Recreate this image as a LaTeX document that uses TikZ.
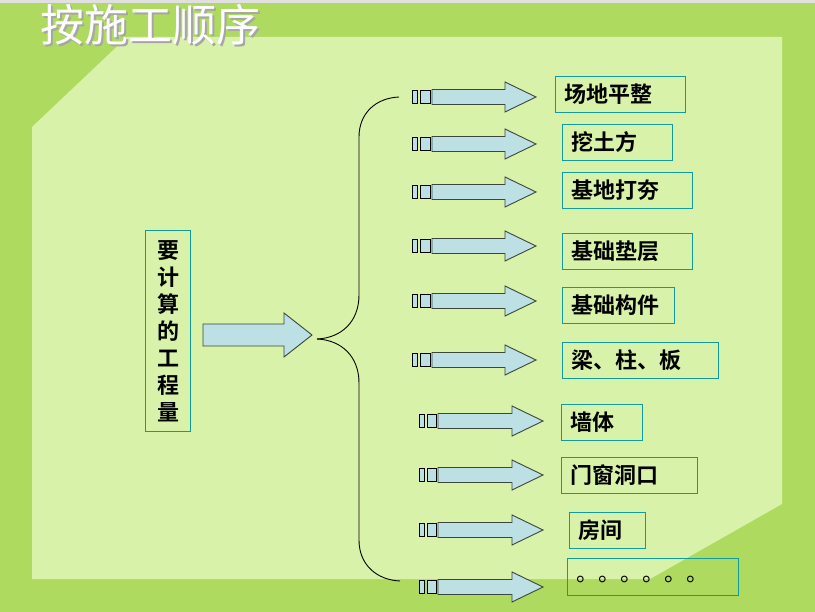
\documentclass[tikz,border=0pt]{standalone}
\usepackage{fontspec}
\newfontfamily\cjk{Noto Sans CJK SC}
\newfontfamily\cjkb{Noto Sans CJK SC Bold}
\usepackage{xcolor}
\usepackage{tikz}
\usetikzlibrary{calc,positioning}
\definecolor{bgdark}{HTML}{AEDB5F}
\definecolor{bglight}{HTML}{D9F2A9}
\definecolor{boxline}{HTML}{109C9C}
\definecolor{arrowfill}{HTML}{BCE0E4}
\definecolor{arrowline}{HTML}{3C463C}
\tikzset{
  item/.style={draw=boxline, line width=1pt, anchor=north west, inner xsep=9pt, inner ysep=0pt,
    minimum height=36pt, align=left, text=black, font=\cjkb\fontsize{22}{22}\selectfont},
  arrowbody/.style={fill=arrowfill, draw=arrowline, line width=0.9pt, line join=miter},
  glyph/.style={fill=arrowfill, draw=black, line width=0.9pt},
  brace/.style={draw=black, line width=0.9pt},
  ttl/.style={font=\cjk\fontsize{44}{44}\selectfont}
}
\newcommand\blockarrow[5]{% left, head, tip, centre y, shaft half
  \draw[arrowbody] (#1,#4-#5) -- (#2,#4-#5) -- (#2,#4-2*#5) -- (#3,#4) -- (#2,#4+2*#5)
    -- (#2,#4+#5) -- (#1,#4+#5) -- cycle;}

\begin{document}
\begin{tikzpicture}[x=1pt,y=-1pt]
  \useasboundingbox (0,0) rectangle (815,612);
  \fill[bgdark] (0,0) rectangle (815,612);
  \fill[black!12] (0,0) rectangle (815,3);
  \fill[bglight] (32,127) -- (127,37) -- (782,37) -- (782,504) -- (650,579) -- (32,579) -- cycle;

  \node[ttl, text=black!35] at (152.5,26.5) {按施工顺序};
  \node[ttl, text=white] (title) at (151,25) {按施工顺序};

  % left box and main arrow
  \node[draw=boxline, line width=1pt, minimum width=45pt, minimum height=201pt, inner sep=0pt,
    align=center, font=\cjkb\fontsize{22}{27}\selectfont] (qty) at (168,331.5)
    {要\\计\\算\\的\\工\\程\\量};
  \blockarrow{203}{284}{312}{335}{11}

  % brace
  \coordinate (brmid) at (317,339);
  \coordinate (brtop) at (399,97);
  \coordinate (brbot) at (400,581);
  \draw[brace] (brtop) .. controls (376,98) and (359,113) .. (359,137) -- (359,295)
    .. controls (359,322) and (341,338) .. (brmid);
  \draw[brace] (brmid) .. controls (341,340) and (359,356) .. (359,383) -- (359,540)
    .. controls (359,565) and (377,580) .. (brbot);

  % small arrows
  \foreach \y in {97,144,192,246,301,360}{
    \draw[glyph] (412,\y-6.5) rectangle (417,\y+6.5);
    \draw[glyph] (420,\y-6.5) rectangle (430,\y+6.5);
    \blockarrow{432}{505}{536}{\y}{7.5}
  }
  \foreach \y in {421,475,530,587}{
    \draw[glyph] (419,\y-6.5) rectangle (424,\y+6.5);
    \draw[glyph] (427,\y-6.5) rectangle (436,\y+6.5);
    \blockarrow{438}{512}{543}{\y}{7.5}
  }

  % items
  \node[item, text width=112pt] (item1) at (555,76) {场地平整};
  \node[item, text width=92pt] (item2) at (562,124) {挖土方};
  \node[item, text width=112pt] (item3) at (562,172) {基地打夯};
  \node[item, text width=112pt] (item4) at (562,233) {基础垫层};
  \node[item, text width=94pt] (item5) at (562,287) {基础构件};
  \node[item, text width=138pt] (item6) at (562,342) {梁、柱、板};
  \node[item, text width=63pt] (item7) at (561,404) {墙体};
  \node[item, text width=118pt] (item8) at (561,457) {门窗洞口};
  \node[item, text width=58pt] (item9) at (569,512) {房间};
  \node[item, text width=153pt, minimum height=37pt, font=\cjk\fontsize{22}{22}\selectfont] (item10)
    at (567,558) {\raisebox{-5pt}[0pt][0pt]{。。。。。。}};
\end{tikzpicture}
\end{document}
